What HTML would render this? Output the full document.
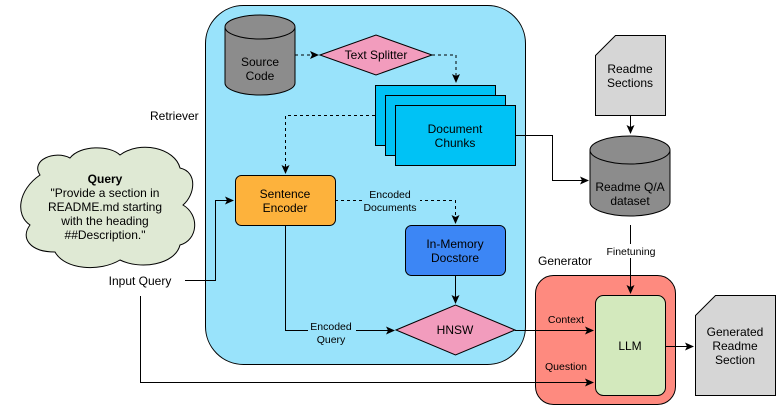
<!DOCTYPE html>
<html><head><meta charset="utf-8"><style>html,body{margin:0;padding:0;background:#fff}svg{display:block}text{font-family:"Liberation Sans",Arial,sans-serif;font-size:12px;fill:#000}</style></head><body>
<svg width="781" height="411" viewBox="0 0 781 411" xmlns="http://www.w3.org/2000/svg">
<defs><marker id="a" markerWidth="10" markerHeight="10" refX="8" refY="5" orient="auto" markerUnits="userSpaceOnUse"><path d="M0,1 L9,5 L0,9 L2,5 Z" fill="#000"/></marker></defs>
<rect x="205.5" y="5.5" width="320" height="359" rx="38" fill="#99e3fb" stroke="#000"/>
<text x="150" y="120">Retriever</text>
<path d="M225,27 L225,83 A35,12 0 0 0 295,83 L295,27" fill="#8c8c8c" stroke="#000"/>
<ellipse cx="260" cy="27" rx="35" ry="12" fill="#8c8c8c" stroke="#000"/>
<text x="260" y="66" text-anchor="middle">Source</text><text x="260" y="80" text-anchor="middle">Code</text>
<path d="M320,55 L376,35 L432,55 L376,75 Z" fill="#f29cbd" stroke="#000"/>
<text x="376" y="59" text-anchor="middle">Text Splitter</text>
<path d="M295,55 L318,55" stroke="#000" stroke-dasharray="3,3" marker-end="url(#a)" fill="none"/>
<path d="M432,55 L456,55 L456,82" stroke="#000" stroke-dasharray="3,3" marker-end="url(#a)" fill="none"/>
<rect x="375.5" y="85.5" width="120" height="60" fill="#00c2f5" stroke="#000"/>
<rect x="385.5" y="95.5" width="120" height="60" fill="#00c2f5" stroke="#000"/>
<rect x="395.5" y="105.5" width="120" height="60" fill="#00c2f5" stroke="#000"/>
<text x="455" y="133" text-anchor="middle" fill="#1a2f5a">Document</text><text x="455" y="147" text-anchor="middle" fill="#1a2f5a">Chunks</text>
<path d="M375,115.5 L285.5,115.5 L285.5,173" stroke="#000" stroke-dasharray="3,3" marker-end="url(#a)" fill="none"/>
<rect x="235.5" y="175.5" width="100" height="50" rx="6" fill="#fdb23c" stroke="#000"/>
<text x="285" y="198" text-anchor="middle">Sentence</text><text x="285" y="212" text-anchor="middle">Encoder</text>
<path d="M335,200.5 L455.5,200.5 L455.5,223" stroke="#000" stroke-dasharray="3,3" marker-end="url(#a)" fill="none"/>
<rect x="362" y="186" width="58" height="28" fill="#99e3fb"/>
<text x="390" y="198" text-anchor="middle" style="font-size:10.5px">Encoded</text><text x="390" y="211" text-anchor="middle" style="font-size:10.5px">Documents</text>
<rect x="405.5" y="225.5" width="100" height="50" rx="6" fill="#3c86f5" stroke="#000"/>
<text x="455" y="248" text-anchor="middle" fill="#0c1e4a">In-Memory</text><text x="455" y="262" text-anchor="middle" fill="#0c1e4a">Docstore</text>
<path d="M455.5,275 L455.5,303" stroke="#000" marker-end="url(#a)" fill="none"/>
<path d="M396,330 L455.5,305 L515,330 L455.5,355 Z" fill="#f29cbd" stroke="#000"/>
<text x="455" y="334" text-anchor="middle">HNSW</text>
<path d="M285.5,225 L285.5,330.5 L394,330.5" stroke="#000" marker-end="url(#a)" fill="none"/>
<rect x="308" y="318" width="48" height="28" fill="#99e3fb"/>
<text x="331" y="330" text-anchor="middle" style="font-size:10.5px">Encoded</text><text x="331" y="343" text-anchor="middle" style="font-size:10.5px">Query</text>
<path d="M40,175 C30,160 55,150 70,158 C80,145 110,145 120,155 C140,140 175,148 180,168 C198,172 195,195 183,205 C200,215 198,240 180,245 C175,265 140,270 120,260 C100,272 65,270 55,252 C30,252 20,238 30,225 C15,215 18,190 40,175 Z" fill="#dfe9d4" stroke="#000"/>
<text x="105" y="183" text-anchor="middle" style="font-weight:bold">Query</text>
<text x="105" y="197" text-anchor="middle">"Provide a section in</text>
<text x="105" y="211" text-anchor="middle">README.md starting</text>
<text x="105" y="225" text-anchor="middle">with the heading</text>
<text x="105" y="239" text-anchor="middle">##Description."</text>
<text x="140" y="285" text-anchor="middle">Input Query</text>
<path d="M185,280.5 L215.5,280.5 L215.5,200.5 L233,200.5" stroke="#000" marker-end="url(#a)" fill="none"/>
<path d="M595.5,55.5 L615.5,35.5 L665.5,35.5 L665.5,115.5 L595.5,115.5 Z" fill="#d6d6d6" stroke="#000"/>
<text x="630" y="73" text-anchor="middle">Readme</text><text x="630" y="87" text-anchor="middle">Sections</text>
<path d="M630.5,115 L630.5,133" stroke="#000" marker-end="url(#a)" fill="none"/>
<path d="M590,150 L590,202 A40,14 0 0 0 670,202 L670,150" fill="#8c8c8c" stroke="#000"/>
<ellipse cx="630" cy="150" rx="40" ry="14" fill="#8c8c8c" stroke="#000"/>
<text x="630" y="191" text-anchor="middle">Readme Q/A</text><text x="630" y="205" text-anchor="middle">dataset</text>
<path d="M515,135.5 L552.5,135.5 L552.5,180.5 L588,180.5" stroke="#000" marker-end="url(#a)" fill="none"/>
<text x="565" y="265" text-anchor="middle">Generator</text>
<rect x="535.5" y="275.5" width="140" height="129" rx="18" fill="#fe8a7f" stroke="#000"/>
<path d="M630.5,225 L630.5,293" stroke="#000" marker-end="url(#a)" fill="none"/>
<rect x="612" y="244" width="38" height="14" fill="#fff"/>
<text x="631" y="255" text-anchor="middle" style="font-size:10.5px">Finetuning</text>
<rect x="595.5" y="295.5" width="70" height="100" rx="8" fill="#d3e9bd" stroke="#000"/>
<text x="630" y="350" text-anchor="middle">LLM</text>
<path d="M515,330.5 L593,330.5" stroke="#000" marker-end="url(#a)" fill="none"/>
<path d="M140.5,296 L140.5,382.5 L593,382.5" stroke="#000" marker-end="url(#a)" fill="none"/>
<text x="566" y="323" text-anchor="middle" style="font-size:10.5px">Context</text>
<text x="566" y="370" text-anchor="middle" style="font-size:10.5px">Question</text>
<path d="M665,346.5 L693,346.5" stroke="#000" marker-end="url(#a)" fill="none"/>
<path d="M695.5,315.5 L715.5,295.5 L775.5,295.5 L775.5,395.5 L695.5,395.5 Z" fill="#d6d6d6" stroke="#000"/>
<text x="735" y="336" text-anchor="middle">Generated</text><text x="735" y="350" text-anchor="middle">Readme</text><text x="735" y="364" text-anchor="middle">Section</text>
</svg>
</body></html>
